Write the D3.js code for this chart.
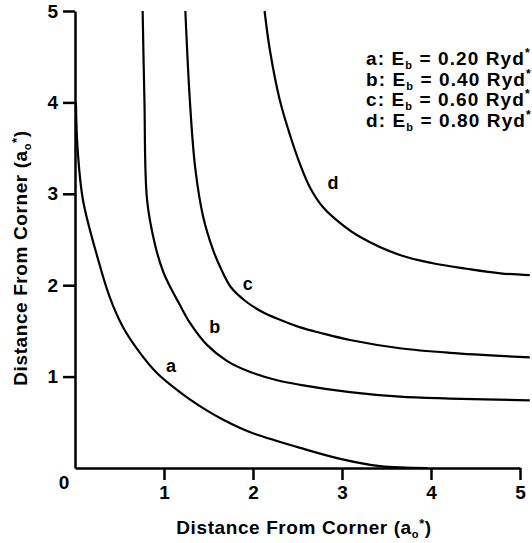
<!DOCTYPE html>
<html>
<head>
<meta charset="utf-8">
<script src="https://cdn.jsdelivr.net/npm/d3@7"></script>
<style>
  body { margin: 0; background: #fff; }
  svg text { font-family: "Liberation Sans", Arial, sans-serif; font-weight: bold; fill: #000; }
</style>
</head>
<body>
<div class="chart"></div>
<script>
// contour curves (x, y in units of a0*)
var curveA = [[0.01,4.0],[0.03,3.48],[0.09,2.93],[0.26,2.28],[0.39,1.87],[0.54,1.54],[0.73,1.26],
  [0.92,1.04],[1.10,0.89],[1.29,0.75],[1.48,0.63],[1.66,0.53],[1.85,0.44],[2.00,0.38],
  [2.53,0.22],[2.98,0.10],[3.43,0.02],[3.96,0.0]];
var curveB = [[0.76,5.0],[0.78,4.03],[0.81,2.93],[0.90,2.44],[0.99,2.15],[1.07,1.98],[1.17,1.80],
  [1.29,1.59],[1.48,1.35],[1.71,1.17],[1.97,1.05],[2.27,0.96],[2.53,0.91],[3.09,0.83],
  [3.65,0.78],[4.21,0.76],[5.11,0.74]];
var curveC = [[1.24,5.0],[1.29,4.03],[1.35,3.29],[1.44,2.75],[1.55,2.39],[1.64,2.18],[1.75,1.98],
  [1.91,1.83],[2.10,1.71],[2.31,1.62],[2.56,1.53],[2.75,1.48],[3.09,1.40],[3.65,1.31],
  [4.21,1.26],[5.11,1.21]];
var curveD = [[2.13,5.0],[2.19,4.57],[2.30,4.03],[2.42,3.63],[2.53,3.32],[2.64,3.07],[2.79,2.85],
  [2.98,2.68],[3.20,2.53],[3.65,2.33],[4.02,2.24],[4.40,2.18],[4.78,2.13],[5.11,2.11]];

var curveNames = ['a', 'b', 'c', 'd'];
var bindingEnergies = ['0.20', '0.40', '0.60', '0.80'];
// where the letter sits next to each curve (baseline)
var labelPos = [[1.08,1.05],[1.57,1.48],[1.94,1.95],[2.90,3.05]];
var xTicks = [1, 2, 3, 4, 5];
var yTicks = [1, 2, 3, 4, 5];

var width = 532, height = 543;

var svg = d3.select(".chart")
  .append("svg")
  .attr('width', width)
  .attr('height', height);

var x = d3.scaleLinear().domain([0, 5]).range([75, 520]);
var y = d3.scaleLinear().domain([0, 5]).range([468, 11]);

var line = d3.line()
  .x(function(d){ return x(d[0]); })
  .y(function(d){ return y(d[1]); })
  .curve(d3.curveCatmullRom.alpha(0.5));

// axes
var xAxis = svg.append('g')
  .attr('transform', 'translate(0,' + y(0) + ')')
  .call(d3.axisBottom(x).tickValues(xTicks).tickFormat(d3.format('d'))
    .tickSize(12).tickSizeOuter(0).tickPadding(6));
var yAxis = svg.append('g')
  .attr('transform', 'translate(' + x(0) + ',0)')
  .call(d3.axisLeft(y).tickValues(yTicks).tickFormat(d3.format('d'))
    .tickSize(12).tickSizeOuter(0).tickPadding(5));

[xAxis, yAxis].forEach(function(g){
  g.attr('font-family', null).attr('font-size', null);
  g.select('.domain').attr('stroke', '#000').attr('stroke-width', 2.5);
  g.selectAll('.tick line').attr('stroke', '#000').attr('stroke-width', 2.5);
  g.selectAll('.tick text').style('font-size', '19px');
});

svg.append('text')
  .attr('x', 64).attr('y', 489)
  .attr('text-anchor', 'middle')
  .style('font-size', '19px')
  .text('0');

// curves
var curves = [curveA, curveB, curveC, curveD];
svg.selectAll('path.contour')
  .data(curves)
  .enter().append('path')
  .attr('class', 'contour')
  .attr('d', line)
  .attr('fill', 'none')
  .attr('stroke', '#000')
  .attr('stroke-width', 2.2);

svg.selectAll('text.curve-label')
  .data(curveNames)
  .enter().append('text')
  .attr('class', 'curve-label')
  .attr('x', function(d, i){ return x(labelPos[i][0]); })
  .attr('y', function(d, i){ return y(labelPos[i][1]); })
  .attr('text-anchor', 'middle')
  .style('font-size', '18px')
  .text(function(d){ return d; });

// legend
var legend = svg.append('g');
curveNames.forEach(function(name, i){
  var t = legend.append('text')
    .attr('x', 366)
    .attr('y', 65 + i * 20.5)
    .style('font-size', '19px')
    .style('letter-spacing', '1.1px');
  t.append('tspan').text(name + ': E');
  t.append('tspan').attr('dy', 4).style('font-size', '11px').text('b');
  t.append('tspan').attr('dy', -4).text(' = ' + bindingEnergies[i] + ' Ryd');
  t.append('tspan').attr('dy', -8).style('font-size', '12px').text('*');
});

// axis titles
function axisTitle(sel){
  sel.style('font-size', '19px').style('letter-spacing', '0.6px');
  sel.append('tspan').text('Distance From Corner (a');
  sel.append('tspan').attr('dy', 4).style('font-size', '11px').text('o');
  sel.append('tspan').attr('dy', -10).style('font-size', '13px').text('*');
  sel.append('tspan').attr('dy', 6).text(')');
}
svg.append('text')
  .attr('x', 304).attr('y', 534)
  .attr('text-anchor', 'middle')
  .call(axisTitle);
svg.append('text')
  .attr('transform', 'translate(27,258) rotate(-90)')
  .attr('text-anchor', 'middle')
  .call(axisTitle);
</script>
</body>
</html>
